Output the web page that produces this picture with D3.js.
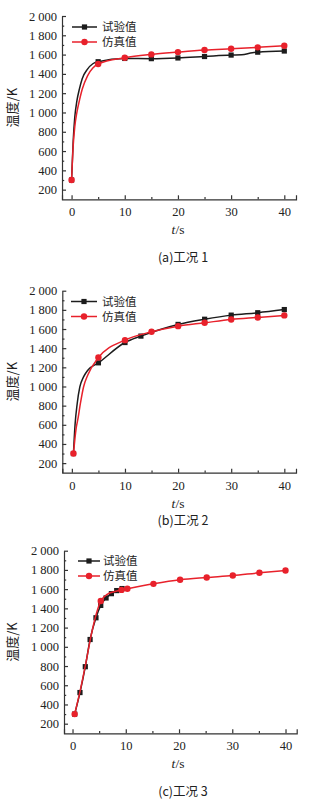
<!DOCTYPE html>
<html>
<head>
<meta charset="utf-8">
<script src="https://cdn.jsdelivr.net/npm/d3@7/dist/d3.min.js"></script>
<style>
  body { margin: 0; background: #fff; }
  .cjk { font-family: "Noto Sans CJK SC", sans-serif; fill: #222; }
</style>
</head>
<body>
<div id="chart"></div>
<script>
// [t (s), temperature (K), marker shown 1/0]
const exp1 = [[0,300,1],[0.3,700,0],[0.6,950,0],[1,1120,0],[1.5,1250,0],[2,1350,0],[3,1450,0],[4,1505,0],[5,1526,1],
  [10,1560,1],[15,1558,1],[20,1565,1],[25,1580,1],[30,1595,1],[32,1598,0],[34,1620,0],[35,1625,1],[40,1637,1]];
const sim1 = [[0,300,1],[0.3,650,0],[0.6,850,0],[1,1000,0],[1.5,1130,0],[2,1240,0],[3,1380,0],[4,1460,0],[5,1502,1],
  [10,1567,1],[15,1602,1],[20,1626,1],[25,1647,1],[30,1661,1],[35,1675,1],[40,1692,1]];

const exp2 = [[0.3,300,1],[0.6,600,0],[1,820,0],[1.5,995,0],[2.2,1100,0],[3,1170,0],[5,1247,1],[10,1459,1],[13,1526,1],
  [20,1648,1],[25,1702,1],[30,1745,1],[35,1770,1],[40,1803,1]];
const sim2 = [[0.3,300,1],[0.8,560,0],[1.2,680,0],[1.6,820,0],[2.2,995,0],[3,1120,0],[5,1302,1],[10,1484,1],[15,1571,1],
  [20,1630,1],[25,1665,1],[30,1700,1],[35,1721,1],[40,1742,1]];

const exp3 = [[0.4,300,1],[1.4,524,1],[2.4,793,1],[3.3,1076,1],[4.4,1302,1],[5.3,1431,1],[6.3,1508,1],[7.3,1553,1],
  [8.3,1585,1],[9.3,1606,1]];
const sim3 = [[0.4,300,1],[1.5,560,0],[2.5,830,0],[3.5,1120,0],[4.5,1350,0],[5.3,1477,1],[6.5,1545,0],[8,1575,0],
  [9.2,1592,1],[10.3,1604,1],[15.2,1655,1],[20.2,1697,1],[25.2,1721,1],[30.1,1742,1],[35.1,1770,1],[40,1794,1]];

const xMajor = [0, 10, 20, 30, 40];
const xMinor = [5, 15, 25, 35];
const yMajor = [200, 400, 600, 800, 1000, 1200, 1400, 1600, 1800, 2000];
const yMinor = [300, 500, 700, 900, 1100, 1300, 1500, 1700, 1900];
const seriesNames = ["试验值", "仿真值"];
const captions = ["(a)工况 1", "(b)工况 2", "(c)工况 3"];

const width = 316;
const height = 804;

const panels = [
  { exp: exp1, sim: sim1, xDom: [-1.8, 42.2], xRange: [62, 296], yTop: 16, yBottom: 199.3, legX: [72, 97, 102], legY: 27, cap: 257 },
  { exp: exp2, sim: sim2, xDom: [-1.8, 42.2], xRange: [62.3, 296], yTop: 290.7, yBottom: 472.7, legX: [71, 97, 102], legY: 301.5, cap: 520 },
  { exp: exp3, sim: sim3, xDom: [-1.6, 42.1], xRange: [64, 296.7], yTop: 550.7, yBottom: 733.3, legX: [78, 100, 103], legY: 561, cap: 791 }
];

const black = "#1c1c1c";
const red = "#e8212b";
const serif = "'Liberation Serif', 'DejaVu Serif', serif";

const svg = d3.select("#chart")
  .append("svg")
  .attr("width", width)
  .attr("height", height);

const fmt = d => d >= 1000 ? String(d).replace(/(\d)(\d{3})$/, "$1 $2") : String(d);

panels.forEach(function(p, i) {
  const g = svg.append("g");

  const xScale = d3.scaleLinear().domain(p.xDom).range(p.xRange);
  const yScale = d3.scaleLinear().domain([100, 2000]).range([p.yBottom, p.yTop]);

  // X axis, ticks pointing in
  g.append("g")
    .attr("transform", `translate(0, ${p.yBottom})`)
    .call(d3.axisBottom(xScale).tickValues(xMajor).tickSizeInner(-4).tickSizeOuter(-4).tickPadding(8));
  g.append("g")
    .attr("transform", `translate(0, ${p.yBottom})`)
    .call(d3.axisBottom(xScale).tickValues(xMinor).tickSizeInner(-2.2).tickSizeOuter(0).tickFormat(""))
    .select(".domain").remove();

  // Y axis
  g.append("g")
    .attr("transform", `translate(${p.xRange[0]}, 0)`)
    .call(d3.axisLeft(yScale).tickValues(yMajor).tickSizeInner(-4).tickSizeOuter(0).tickPadding(5).tickFormat(fmt));
  g.append("g")
    .attr("transform", `translate(${p.xRange[0]}, 0)`)
    .call(d3.axisLeft(yScale).tickValues(yMinor).tickSizeInner(-2.2).tickSizeOuter(0).tickFormat(""))
    .select(".domain").remove();

  g.selectAll(".domain, .tick line").attr("stroke", "#333").attr("stroke-width", 1.2);
  g.selectAll(".tick text")
    .style("font-family", serif)
    .style("font-size", "12.5px")
    .style("fill", "#222");

  const line = d3.line()
    .x(d => xScale(d[0]))
    .y(d => yScale(d[1]))
    .curve(d3.curveMonotoneX);

  // Experimental
  g.append("path")
    .datum(p.exp)
    .attr("fill", "none")
    .attr("stroke", black)
    .attr("stroke-width", 1.5)
    .attr("d", line);

  g.selectAll(".exp-dot")
    .data(p.exp.filter(d => d[2]))
    .enter()
    .append("rect")
    .attr("x", d => xScale(d[0]) - 2.6)
    .attr("y", d => yScale(d[1]) - 2.6)
    .attr("width", 5.2)
    .attr("height", 5.2)
    .attr("fill", black);

  // Simulation
  g.append("path")
    .datum(p.sim)
    .attr("fill", "none")
    .attr("stroke", red)
    .attr("stroke-width", 1.5)
    .attr("d", line);

  g.selectAll(".sim-dot")
    .data(p.sim.filter(d => d[2]))
    .enter()
    .append("circle")
    .attr("cx", d => xScale(d[0]))
    .attr("cy", d => yScale(d[1]))
    .attr("r", 3.2)
    .attr("fill", red);

  // Legend
  [black, red].forEach(function(c, k) {
    const ly = p.legY + k * 15;
    g.append("line")
      .attr("x1", p.legX[0]).attr("x2", p.legX[1])
      .attr("y1", ly).attr("y2", ly)
      .attr("stroke", c).attr("stroke-width", 1.5);
    const mx = (p.legX[0] + p.legX[1]) / 2;
    if (k === 0) {
      g.append("rect").attr("x", mx - 2.6).attr("y", ly - 2.6).attr("width", 5.2).attr("height", 5.2).attr("fill", c);
    } else {
      g.append("circle").attr("cx", mx).attr("cy", ly).attr("r", 3.2).attr("fill", c);
    }
    g.append("text")
      .attr("class", "cjk")
      .attr("x", p.legX[2])
      .attr("y", ly + 4.2)
      .style("font-size", "11.5px")
      .text(seriesNames[k]);
  });

  // Axis titles
  const xt = g.append("text")
    .attr("x", 178)
    .attr("y", p.yBottom + 35)
    .attr("text-anchor", "middle")
    .style("font-family", serif)
    .style("font-size", "13.5px")
    .style("fill", "#222");
  xt.append("tspan").style("font-style", "italic").text("t");
  xt.append("tspan").text("/s");

  g.append("text")
    .attr("class", "cjk")
    .attr("transform", `translate(17, ${(p.yTop + p.yBottom) / 2}) rotate(-90)`)
    .attr("text-anchor", "middle")
    .style("font-size", "13px")
    .text("温度/K");

  g.append("text")
    .attr("class", "cjk")
    .attr("x", 183)
    .attr("y", p.cap + 4.5)
    .attr("text-anchor", "middle")
    .style("font-size", "12.5px")
    .text(captions[i]);
});
</script>
</body>
</html>
